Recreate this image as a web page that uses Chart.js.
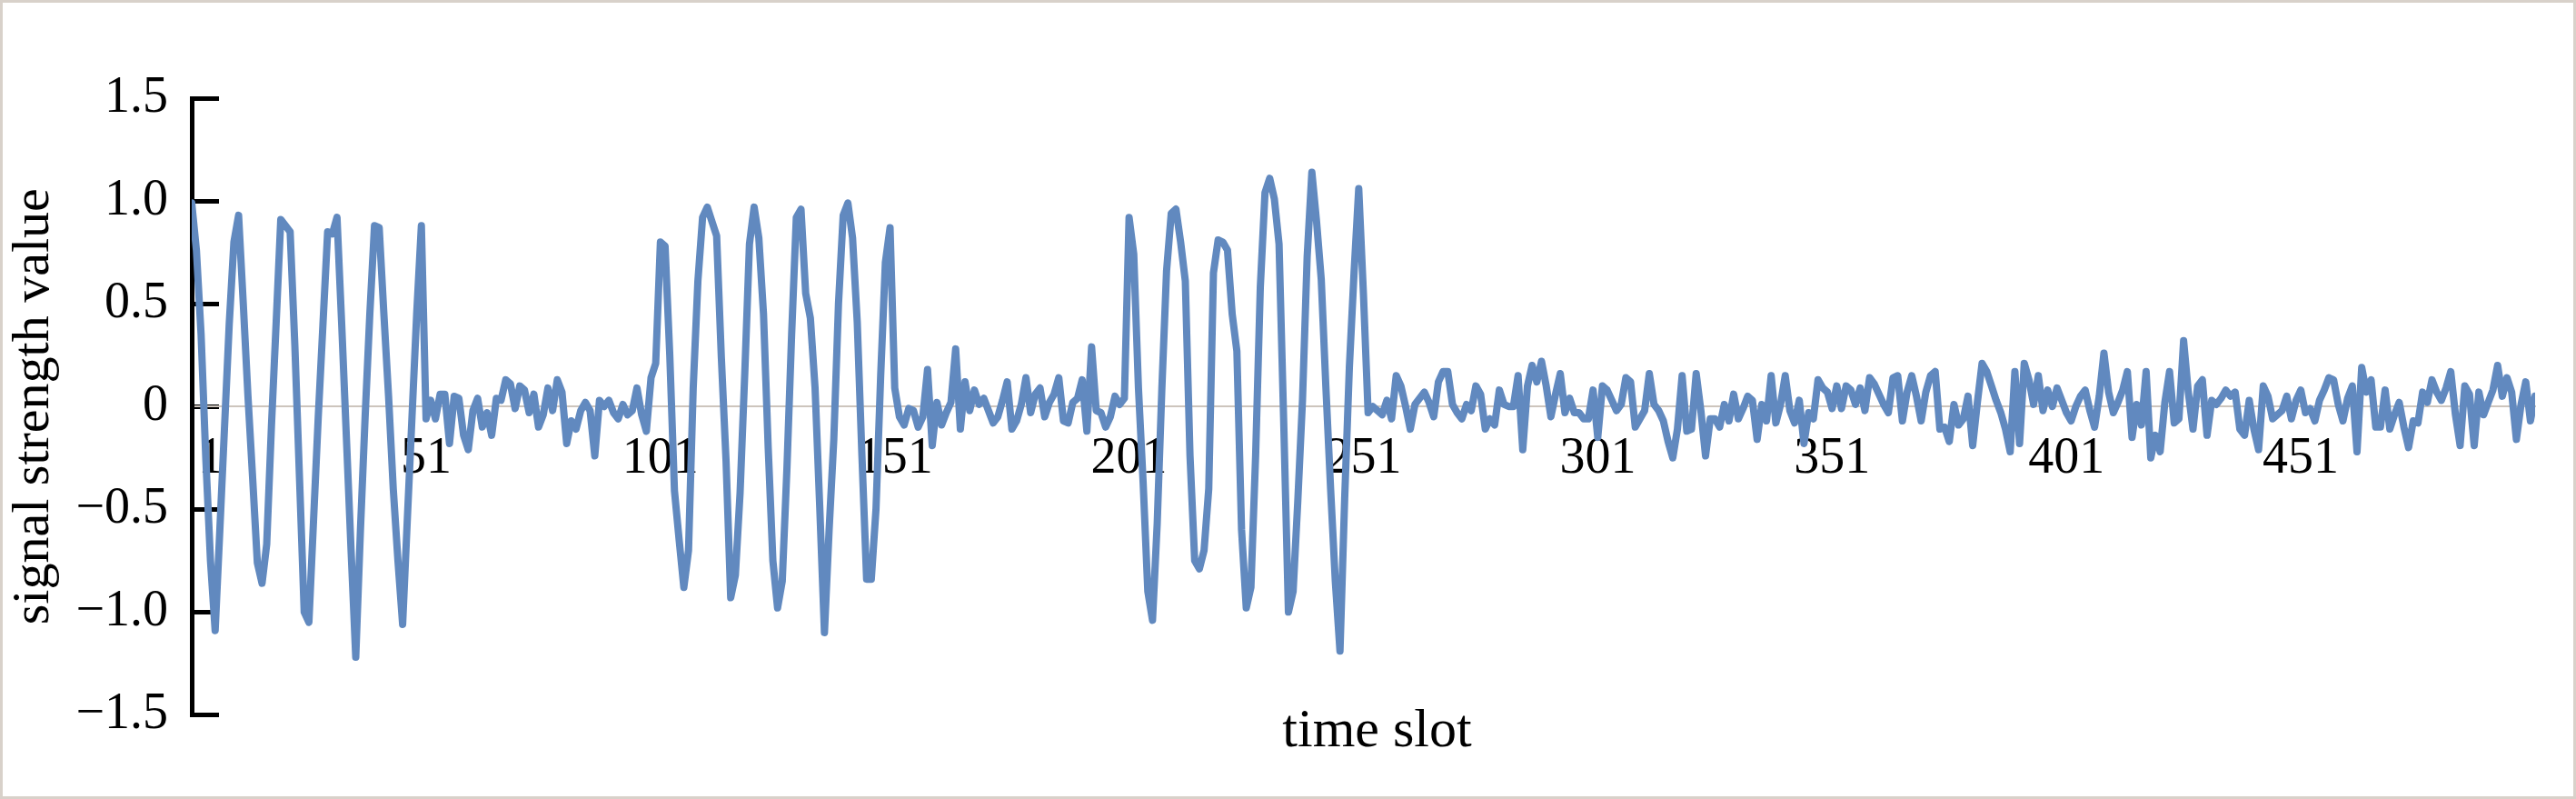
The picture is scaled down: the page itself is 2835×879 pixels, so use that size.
<!DOCTYPE html>
<html>
<head>
<meta charset="utf-8">
<script src="https://cdn.jsdelivr.net/npm/chart.js@4.4.0/dist/chart.umd.min.js"></script>
<style>
  html, body { margin: 0; padding: 0; background: #fff; }
  #frame { width: 2835px; height: 879px; box-sizing: border-box; border: 3px solid #d8d1ca; background: #fff; }
  canvas { display: block; }
</style>
</head>
<body>
<div id="frame"><canvas id="chart" width="2829" height="873"></canvas></div>
<script>
// slots 1-50
const burst1 = [
  0.99, 0.76, 0.35, -0.25, -0.75, -1.09, -0.60, -0.10, 0.40, 0.80,
  0.93, 0.50, 0.05, -0.35, -0.76, -0.86, -0.67, -0.10, 0.40, 0.91,
  0.88, 0.85, 0.30, -0.35, -1.00, -1.05, -0.55, -0.05, 0.40, 0.85,
  0.84, 0.92, 0.40, -0.15, -0.70, -1.22, -0.60, -0.05, 0.45, 0.88,
  0.87, 0.45, 0.05, -0.40, -0.75, -1.06, -0.55, -0.05, 0.45, 0.88
];
// slots 51-100
const quiet1 = [
  -0.06, 0.03, -0.06, 0.06, 0.06, -0.18, 0.05, 0.04, -0.14, -0.21,
  -0.02, 0.04, -0.10, -0.03, -0.14, 0.04, 0.03, 0.13, 0.11, -0.01,
  0.10, 0.08, -0.03, 0.06, -0.10, -0.04, 0.09, -0.02, 0.13, 0.07,
  -0.18, -0.07, -0.11, -0.02, 0.02, -0.02, -0.24, 0.03, 0.00, 0.03,
  -0.03, -0.06, 0.01, -0.04, -0.02, 0.09, -0.04, -0.12, 0.14, 0.21
];
// slots 101-150
const burst2 = [
  0.80, 0.78, 0.25, -0.41, -0.65, -0.88, -0.70, 0.09, 0.61, 0.92,
  0.97, 0.90, 0.83, 0.24, -0.26, -0.93, -0.82, -0.42, 0.16, 0.79,
  0.97, 0.82, 0.45, -0.20, -0.75, -0.98, -0.85, -0.30, 0.35, 0.92,
  0.96, 0.55, 0.43, 0.09, -0.49, -1.10, -0.60, -0.16, 0.50, 0.93,
  0.99, 0.82, 0.41, -0.24, -0.84, -0.84, -0.50, 0.15, 0.70, 0.87
];
// slots 151-200
const quiet2 = [
  0.09, -0.05, -0.09, -0.01, -0.02, -0.10, -0.05, 0.18, -0.19, 0.02,
  -0.09, -0.03, 0.02, 0.28, -0.11, 0.12, -0.02, 0.08, 0.01, 0.04,
  -0.02, -0.08, -0.05, 0.03, 0.12, -0.11, -0.07, 0.01, 0.14, -0.03,
  0.06, 0.09, -0.05, 0.02, 0.06, 0.14, -0.07, -0.08, 0.02, 0.04,
  0.13, -0.12, 0.29, -0.02, -0.03, -0.10, -0.05, 0.05, 0.01, 0.04
];
// slots 201-250
const burst3 = [
  0.92, 0.74, 0.09, -0.37, -0.90, -1.04, -0.57, 0.09, 0.66, 0.94,
  0.96, 0.80, 0.61, -0.24, -0.75, -0.79, -0.70, -0.40, 0.65, 0.81,
  0.80, 0.76, 0.45, 0.27, -0.60, -0.98, -0.88, -0.24, 0.58, 1.04,
  1.11, 1.01, 0.79, -0.08, -1.00, -0.90, -0.46, 0.03, 0.73, 1.14,
  0.90, 0.62, 0.09, -0.40, -0.85, -1.19, -0.45, 0.19, 0.65, 1.06
];
// slots 251-501
const quiet3 = [
  0.55, -0.03, 0.00, -0.02, -0.04, 0.03, -0.06, 0.15, 0.10, 0.00,
  -0.11, 0.01, 0.04, 0.07, 0.02, -0.05, 0.12, 0.17, 0.17, 0.01,
  -0.03, -0.06, 0.01, -0.02, 0.10, 0.06, -0.11, -0.06, -0.09, 0.08,
  0.01, 0.00, 0.00, 0.15, -0.21, 0.10, 0.20, 0.12, 0.22, 0.10,
  -0.05, 0.06, 0.16, -0.03, 0.04, -0.03, -0.03, -0.06, -0.06, 0.08,
  -0.15, 0.10, 0.08, 0.03, -0.02, 0.01, 0.14, 0.12, -0.10, -0.06,
  -0.02, 0.16, 0.01, -0.02, -0.07, -0.17, -0.25, -0.11, 0.15, -0.12,
  -0.11, 0.16, -0.02, -0.24, -0.06, -0.06, -0.10, 0.01, -0.07, 0.06,
  -0.06, -0.01, 0.05, 0.03, -0.16, 0.01, -0.07, 0.15, -0.08, 0.01,
  0.15, -0.02, -0.08, 0.03, -0.18, -0.03, -0.06, 0.13, 0.09, 0.07,
  -0.01, 0.10, -0.01, 0.10, 0.08, 0.01, 0.09, -0.02, 0.14, 0.11,
  0.06, 0.01, -0.03, 0.14, 0.15, -0.07, 0.07, 0.15, 0.05, -0.07,
  0.07, 0.15, 0.17, -0.11, -0.10, -0.17, 0.01, -0.09, -0.06, 0.05,
  -0.19, 0.02, 0.21, 0.17, 0.10, 0.03, -0.03, -0.11, -0.22, 0.17,
  -0.18, 0.21, 0.13, 0.01, 0.15, -0.02, 0.08, 0.00, 0.09, 0.03,
  -0.03, -0.07, 0.00, 0.05, 0.08, -0.02, -0.10, 0.05, 0.26, 0.07,
  -0.03, 0.02, 0.08, 0.17, -0.15, 0.01, -0.09, 0.17, -0.25, -0.14,
  -0.22, 0.02, 0.17, -0.08, -0.06, 0.32, 0.07, -0.11, 0.10, 0.13,
  -0.14, 0.03, 0.01, 0.04, 0.08, 0.05, 0.07, -0.11, -0.14, 0.03,
  -0.11, -0.21, 0.10, 0.05, -0.06, -0.04, -0.02, 0.05, -0.06, 0.03,
  0.08, -0.03, -0.01, -0.07, 0.03, 0.08, 0.14, 0.13, 0.01, -0.07,
  0.04, 0.10, -0.22, 0.19, 0.07, 0.13, -0.10, -0.10, 0.08, -0.11,
  -0.04, 0.02, -0.10, -0.20, -0.07, -0.08, 0.07, 0.02, 0.13, 0.07,
  0.03, 0.09, 0.17, -0.04, -0.19, 0.10, 0.06, -0.19, 0.07, -0.04,
  0.02, 0.08, 0.20, 0.05, 0.14, 0.07, -0.16, 0.01, 0.12, -0.07,
  0.05
];

const xTicks = [1, 51, 101, 151, 201, 251, 301, 351, 401, 451];
const yTicks = [-1.5, -1, -0.5, 0, 0.5, 1, 1.5];
const yTickLabels = ['\u22121.5', '\u22121.0', '\u22120.5', '0', '0.5', '1.0', '1.5'];

const signal = [].concat(burst1, quiet1, burst2, quiet2, burst3, quiet3);
const points = signal.map((v, i) => ({ x: i + 1, y: v }));

const serif = "'Liberation Serif', 'Times New Roman', serif";

new Chart(document.getElementById('chart'), {
    type: 'line',
    data: {
        datasets: [{
            data: points,
            borderColor: '#6189bf',
            borderWidth: 8,
            borderJoinStyle: 'round',
            borderCapStyle: 'round',
            pointRadius: 0,
            tension: 0
        }]
    },
    options: {
        responsive: false,
        animation: false,
        devicePixelRatio: 1,
        layout: { padding: { top: 105, right: 42, bottom: 0, left: 0 } },
        plugins: { legend: { display: false }, tooltip: { enabled: false } },
        scales: {
            x: {
                type: 'linear',
                position: { y: 0 },
                min: 1,
                max: 501,
                afterBuildTicks: s => { s.ticks = xTicks.map(v => ({ value: v })); },
                afterFit: s => { s.height = 58; },
                grid: { display: false, drawTicks: false },
                border: { display: true, color: '#cdc5bd', width: 2 },
                ticks: {
                    color: '#000',
                    padding: 24,
                    maxRotation: 0,
                    autoSkip: false,
                    font: { family: serif, size: 56 },
                    callback: v => v === 1 ? '   1' : String(v)
                },
                title: {
                    display: true,
                    text: '  time slot',
                    color: '#000',
                    font: { family: serif, size: 60 },
                    padding: { top: 0, bottom: -336 }
                }
            },
            y: {
                min: -1.5,
                max: 1.5,
                afterBuildTicks: s => { s.ticks = yTicks.map(v => ({ value: v })); },
                afterFit: s => { s.width = 208; },
                grid: {
                    drawOnChartArea: false,
                    drawTicks: true,
                    tickLength: -30,
                    color: '#000',
                    lineWidth: 5
                },
                border: { display: true, color: '#000', width: 5 },
                ticks: {
                    color: '#000',
                    padding: 56,
                    font: { family: serif, size: 56 },
                    callback: v => yTickLabels[yTicks.indexOf(v)]
                },
                title: {
                    display: true,
                    text: 'signal strength value',
                    color: '#000',
                    font: { family: serif, size: 58, lineHeight: 1 },
                    padding: { top: 6, bottom: 0 }
                }
            }
        }
    }
});
</script>
</body>
</html>
